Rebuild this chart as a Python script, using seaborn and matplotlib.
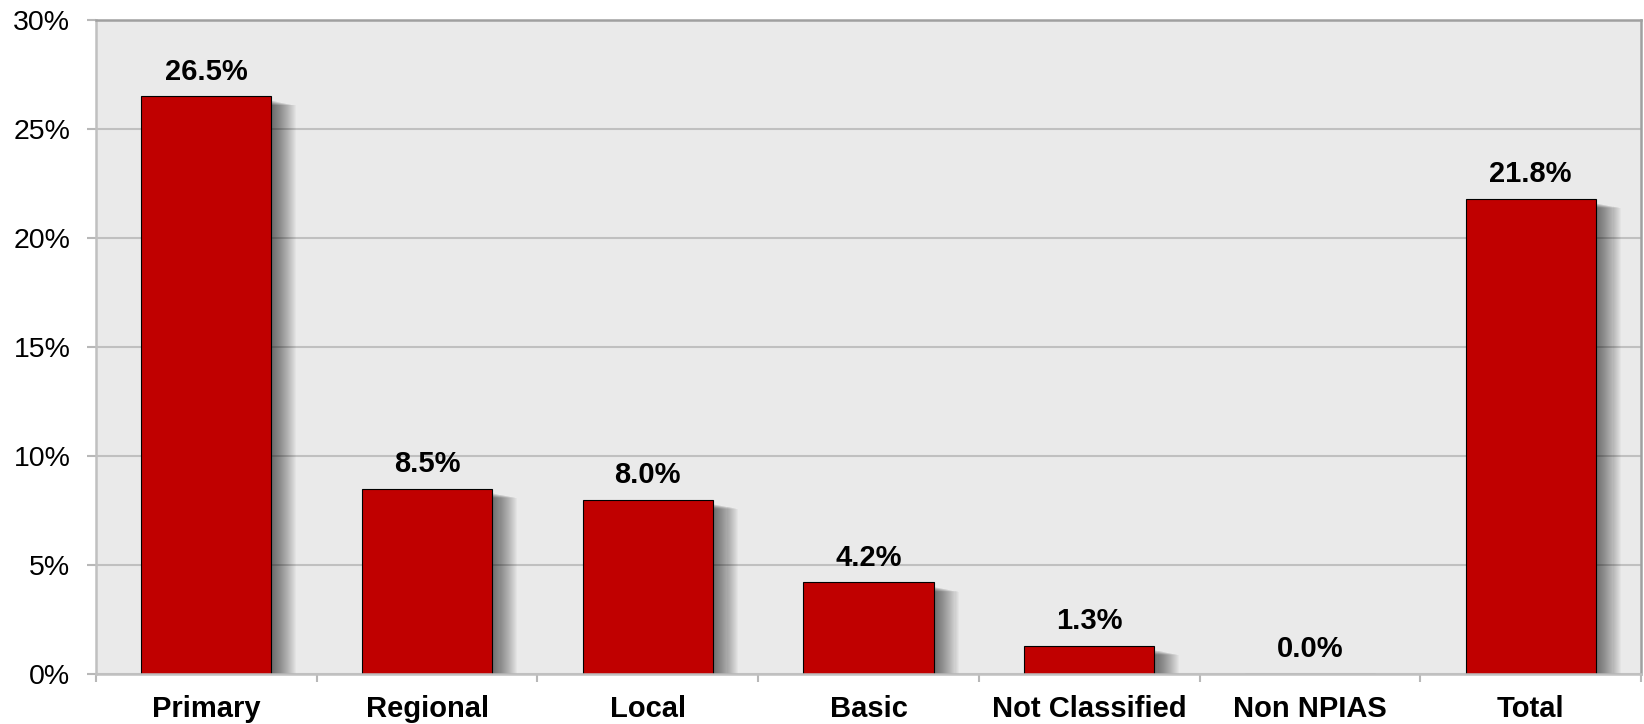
import numpy as np
import matplotlib
matplotlib.use("Agg")
import matplotlib.pyplot as plt
import matplotlib.patheffects as pe
from matplotlib.ticker import FixedLocator, FuncFormatter
import seaborn as sns

# Share of airports by NPIAS category
categories = ["Primary", "Regional", "Local", "Basic", "Not Classified", "Non NPIAS", "Total"]
values = [26.5, 8.5, 8.0, 4.2, 1.3, 0.0, 21.8]
y_ticks = [0, 5, 10, 15, 20, 25, 30]

sns.set_theme(style="white")
plt.rcParams["font.family"] = ["Liberation Sans", "DejaVu Sans"]

fig = plt.figure(figsize=(16.44, 7.24), dpi=100)
ax = fig.add_axes([0.0584, 0.0691, 0.9398, 0.9033])
ax.set_facecolor("#eaeaea")

sns.barplot(x=categories, y=values, color="#c00000", saturation=1,
            edgecolor="black", linewidth=0.8, width=0.59, ax=ax)

# soft drop shadow to the lower right of each bar
shadow = [pe.SimplePatchShadow(offset=(k * 0.75, -3.0 - k * 0.15),
                               shadow_rgbFace="black", alpha=0.026)
          for k in range(1, 25)]
for bar in ax.patches:
    bar.set_path_effects(shadow + [pe.Normal()])

ax.set_ylim(0, 30)
ax.set_xlim(-0.5, len(categories) - 0.5)
ax.set_yticks(y_ticks)
ax.yaxis.set_major_formatter(FuncFormatter(lambda v, _: f"{v:.0f}%"))
ax.tick_params(axis="y", which="major", length=6.5, width=1.5, color="#b8b8b8",
               pad=12, labelsize=20.5, labelcolor="black", left=True)

# tick marks sit on category boundaries, labels at category centres
ax.xaxis.set_major_locator(FixedLocator(np.arange(-0.5, len(categories), 1.0)))
ax.xaxis.set_minor_locator(FixedLocator(np.arange(len(categories))))
ax.set_xticklabels([], minor=False)
ax.set_xticklabels(categories, minor=True, fontsize=21, fontweight="bold")
ax.tick_params(axis="x", which="major", length=6, width=1.5, color="#b8b8b8", bottom=True)
ax.tick_params(axis="x", which="minor", length=0, pad=15, labelcolor="black")
ax.set_xlabel("")
ax.set_ylabel("")

ax.set_axisbelow(True)
ax.yaxis.grid(True, color="#c0c0c0", linewidth=1.5)
ax.xaxis.grid(False)

for side in ["top", "right"]:
    ax.spines[side].set_color("#a0a0a0")
    ax.spines[side].set_linewidth(1.8)
for side in ["left", "bottom"]:
    ax.spines[side].set_color("#c0c0c0")
    ax.spines[side].set_linewidth(1.8)

for i, v in enumerate(values):
    ax.annotate(f"{v:.1f}%", (i, v), xytext=(0, 12), textcoords="offset points",
                ha="center", va="baseline", fontsize=21, fontweight="bold",
                color="black")

fig.savefig("out.png", dpi=100)
